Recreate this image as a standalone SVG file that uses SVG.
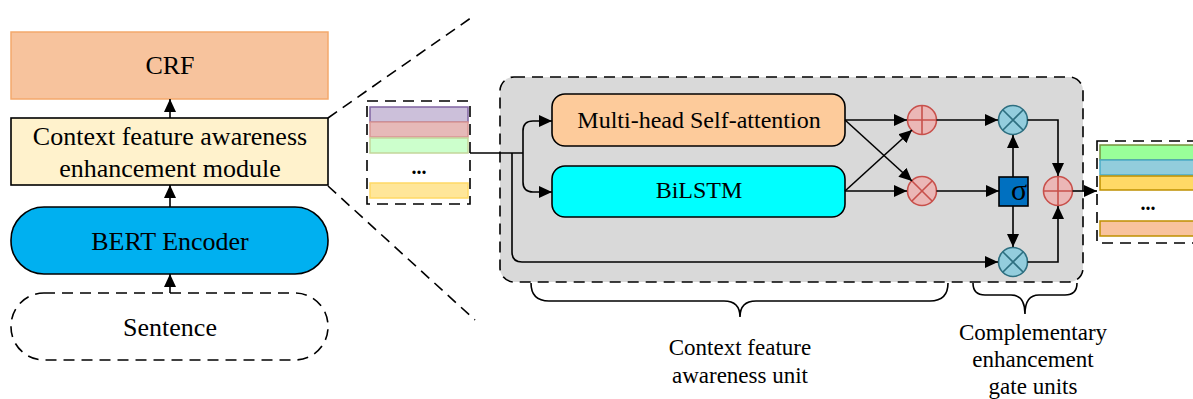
<svg xmlns="http://www.w3.org/2000/svg" width="1193" height="399" viewBox="0 0 1193 399">
<style>
text{font-family:"Liberation Serif","Times New Roman",serif;fill:#000;text-anchor:middle}
.ln{fill:none;stroke:#000;stroke-width:1.6}
.arr{marker-end:url(#ah)}
.dash{fill:none;stroke:#000;stroke-width:1.6;stroke-dasharray:11 7}
.pl{fill:#EBB7B6;stroke:#C8504B;stroke-width:1.6}
.bl{fill:#93CDDD;stroke:#2E6F80;stroke-width:1.6}
.pls{stroke:#C8504B;stroke-width:1.6;fill:none}
.bls{stroke:#2E6F80;stroke-width:1.6;fill:none}
</style>
<defs>
<marker id="ah" markerUnits="userSpaceOnUse" markerWidth="14" markerHeight="12" refX="13" refY="6" orient="auto">
<path d="M0,0 L13,6 L0,12 z" fill="#000"/>
</marker>
</defs>

<g id="crf">
<rect x="11" y="32" width="317" height="67" fill="#F7C39D" stroke="#F4A96C" stroke-width="1.5"/>
<text x="170" y="74" font-size="26">CRF</text>
</g>
<g id="module">
<rect x="11" y="118" width="317" height="67" fill="#FFF2CC" stroke="#000" stroke-width="1.6"/>
<text x="170" y="145" font-size="26">Context feature awareness</text>
<text x="170" y="177" font-size="26">enhancement module</text>
</g>
<g id="bert">
<rect x="11" y="207" width="317" height="67" rx="33" fill="#00B0F0" stroke="#000" stroke-width="1.6"/>
<text x="170" y="250" font-size="26">BERT Encoder</text>
</g>
<g id="sentence">
<rect x="11" y="293" width="317" height="67" rx="33" fill="#fff" class="dash"/>
<text x="170" y="336" font-size="26">Sentence</text>
</g>

<g id="input-stack">
<rect x="367" y="101" width="103" height="103" fill="#fff" class="dash"/>
<rect x="370" y="107" width="98" height="15" fill="#CCC0DA" stroke="#8064A2" stroke-width="1.5"/>
<rect x="370" y="122" width="98" height="15" fill="#E6B9B8" stroke="#D99694" stroke-width="1.5"/>
<rect x="370" y="138" width="98" height="15" fill="#CCFFCC" stroke="#C3D69B" stroke-width="1.5"/>
<text x="419" y="174" font-size="20" font-weight="bold">...</text>
<rect x="370" y="183" width="98" height="15" fill="#FFE699" stroke="#FFD966" stroke-width="1.5"/>
</g>

<g id="unit-box">
<rect x="500" y="77" width="583" height="205" rx="14" class="dash" style="fill:#D9D9D9"/>
</g>

<g id="mhsa">
<rect x="552" y="94" width="293" height="52" rx="13" fill="#FDCB9B" stroke="#000" stroke-width="1.6"/>
<text x="699" y="128" font-size="24">Multi-head Self-attention</text>
</g>
<g id="bilstm">
<rect x="552" y="166" width="293" height="51" rx="13" fill="#00FFFF" stroke="#000" stroke-width="1.6"/>
<text x="699" y="198" font-size="24">BiLSTM</text>
</g>

<g id="add1">
<circle cx="922" cy="120" r="14.5" class="pl"/>
<path d="M922,105.5 V134.5 M907.5,120 H936.5" class="pls"/>
</g>
<g id="mul1">
<circle cx="922" cy="191" r="14.5" class="pl"/>
<path d="M911.7,180.7 L932.3,201.3 M932.3,180.7 L911.7,201.3" class="pls"/>
</g>
<g id="mul2">
<circle cx="1013" cy="120" r="14.5" class="bl"/>
<path d="M1002.7,109.7 L1023.3,130.3 M1023.3,109.7 L1002.7,130.3" class="bls"/>
</g>
<g id="sigma">
<rect x="999" y="177" width="29" height="29" fill="#0070C0" stroke="#000" stroke-width="1.6"/>
<text x="1019" y="200" font-size="30">σ</text>
</g>
<g id="mul3">
<circle cx="1013" cy="262" r="14.5" class="bl"/>
<path d="M1002.7,251.7 L1023.3,272.3 M1023.3,251.7 L1002.7,272.3" class="bls"/>
</g>
<g id="add2">
<circle cx="1058" cy="191" r="14.5" class="pl"/>
<path d="M1058,176.5 V205.5 M1043.5,191 H1072.5" class="pls"/>
</g>

<g id="output-stack">
<rect x="1097" y="141" width="110" height="102" fill="#fff" class="dash"/>
<rect x="1100" y="145" width="100" height="15" fill="#99FF99" stroke="#77933C" stroke-width="1.5"/>
<rect x="1100" y="160" width="100" height="15" fill="#92CDDC" stroke="#4BACC6" stroke-width="1.5"/>
<rect x="1100" y="176" width="100" height="14" fill="#FFD966" stroke="#BF9000" stroke-width="1.5"/>
<text x="1148" y="210" font-size="20" font-weight="bold">...</text>
<rect x="1100" y="221" width="100" height="15" fill="#F8C39D" stroke="#BF9000" stroke-width="1.5"/>
</g>

<g id="connectors">
<path d="M170,293 L170,274" class="ln arr"/>
<path d="M170,207 L170,185" class="ln arr"/>
<path d="M170,118 L170,99" class="ln arr"/>
<path d="M328,118 L475,15" class="dash"/>
<path d="M328,186 L475,320" class="dash"/>
<path d="M470,153 L523,153" class="ln"/>
<path d="M523,153 L523,131 Q523,121 533,121 L552,121" class="ln arr"/>
<path d="M523,153 L523,182 Q523,192 533,192 L552,192" class="ln arr"/>
<path d="M512,153 L512,252 Q512,262 522,262 L998,262" class="ln arr"/>
<path d="M845,120 L907,120" class="ln arr"/>
<path d="M845,120 L912,181" class="ln arr"/>
<path d="M845,191 L907,191" class="ln arr"/>
<path d="M845,191 L912,130" class="ln arr"/>
<path d="M936.5,120 L998,120" class="ln arr"/>
<path d="M936.5,191 L999,191" class="ln arr"/>
<path d="M1013,177 L1013,135" class="ln arr"/>
<path d="M1013,206 L1013,247" class="ln arr"/>
<path d="M1027.5,120 L1058,120 L1058,176" class="ln arr"/>
<path d="M1027.5,262 L1058,262 L1058,206" class="ln arr"/>
<path d="M1072.5,191 L1097,191" class="ln arr"/>
</g>

<g id="braces">
<path d="M531,283 Q531,301 549,301 L724,301 Q740,301 740,317 Q740,301 756,301 L930,301 Q948,301 948,283" class="ln"/>
<path d="M973,283 Q973,295 985,295 L1011,295 Q1025,295 1025,314 Q1025,295 1039,295 L1065,295 Q1077,295 1077,283" class="ln"/>
</g>

<g id="labels">
<text x="740" y="355" font-size="23">Context feature</text>
<text x="740" y="383" font-size="23">awareness unit</text>
<text x="1033" y="340" font-size="23">Complementary</text>
<text x="1033" y="367" font-size="23">enhancement</text>
<text x="1033" y="394" font-size="23">gate units</text>
</g>
</svg>
